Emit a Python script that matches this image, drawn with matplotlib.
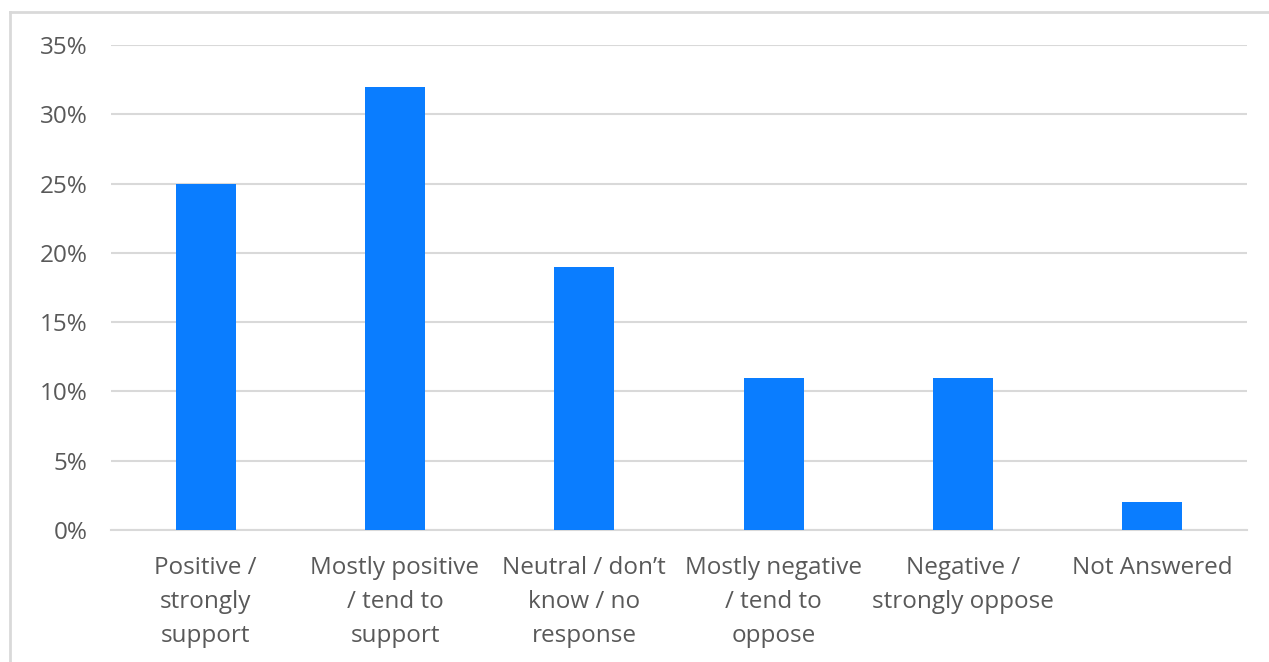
import matplotlib
matplotlib.use("Agg")
import matplotlib.pyplot as plt
from matplotlib.lines import Line2D
from matplotlib.ticker import FuncFormatter, MultipleLocator

categories = ["Positive /\nstrongly\nsupport", "Mostly positive\n/ tend to\nsupport",
              "Neutral / don\u2019t\nknow / no\nresponse", "Mostly negative\n/ tend to\noppose",
              "Negative /\nstrongly oppose", "Not Answered"]
values = [25, 32, 19, 11, 11, 2]

plt.rcParams['font.family'] = ['Open Sans', 'DejaVu Sans']
W, H = 1269, 662
fig = plt.figure(figsize=(W/100, H/100), dpi=100)
ax = fig.add_axes([111/W, 1-530/H, (1247-111)/W, (530-45)/H])

x = list(range(len(categories)))
ax.bar(x, values, width=0.317, color='#0A7DFF', zorder=3)
ax.set_xlim(-0.5, len(categories)-0.5)
ax.set_ylim(0, 35)
ax.yaxis.set_major_locator(MultipleLocator(5))
ax.yaxis.set_major_formatter(FuncFormatter(lambda v, p: f"{int(v)}%"))
ax.grid(axis='y', color='#D9D9D9', linewidth=1.5, zorder=0)
for s in ['top', 'right', 'left']:
    ax.spines[s].set_visible(False)
ax.spines['bottom'].set_color('#D9D9D9')
ax.spines['bottom'].set_linewidth(1.5)
ax.tick_params(axis='both', length=0, labelsize=17.5, labelcolor='#595959')
ax.tick_params(axis='y', pad=17)
ax.tick_params(axis='x', pad=19)
ax.set_xticks(x)
ax.set_xticklabels(categories, linespacing=1.54)

fig.add_artist(Line2D([10/W, 10/W], [0, 1-12/H], transform=fig.transFigure, color='#D9D9D9', linewidth=2))
fig.add_artist(Line2D([10/W, 1], [1-12/H, 1-12/H], transform=fig.transFigure, color='#D9D9D9', linewidth=2))

fig.savefig("out.png", dpi=100)
